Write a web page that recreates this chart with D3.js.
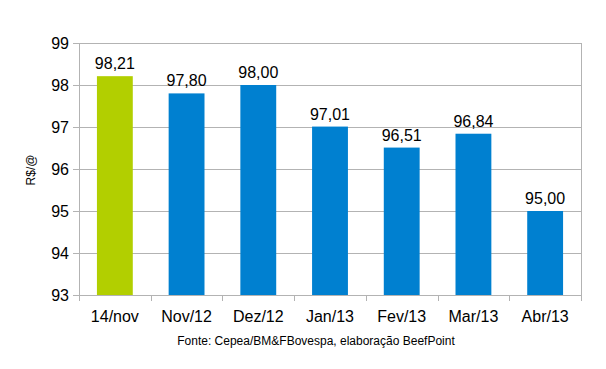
<!DOCTYPE html>
<html><head><meta charset="utf-8">
<script src="https://cdn.jsdelivr.net/npm/d3@7"></script>
<style>body{margin:0;background:#fff}svg{display:block}</style>
</head><body>
<svg id="c" width="606" height="369"></svg>
<script>
const categories = ["14/nov","Nov/12","Dez/12","Jan/13","Fev/13","Mar/13","Abr/13"];
const values = [98.21,97.80,98.00,97.01,96.51,96.84,95.00];
const yTicks = [93,94,95,96,97,98,99];
const barColors = ["#b2cf00","#0080d0","#0080d0","#0080d0","#0080d0","#0080d0","#0080d0"];

const svg = d3.select("#c");
const m = {l:79, r:581, t:43, b:295};
const font = "'Liberation Sans', Arial, sans-serif";
const x = d3.scaleBand().domain(categories).range([m.l, m.r]).paddingInner(0.5).paddingOuter(0.25);
const xb = d3.scaleBand().domain(categories).range([m.l, m.r]);
const y = d3.scaleLinear().domain([93,99]).range([m.b, m.t]);
const grid = "#b3b3b3";

// gridlines
svg.append("g").selectAll("line").data(yTicks).join("line")
  .attr("x1", m.l-6).attr("x2", m.r).attr("y1", d=>y(d)+0.5).attr("y2", d=>y(d)+0.5)
  .attr("stroke", grid).attr("stroke-width",1);
// left axis line and right border
svg.append("line").attr("x1",m.l+0.5).attr("x2",m.l+0.5).attr("y1",m.t).attr("y2",m.b).attr("stroke",grid);
svg.append("line").attr("x1",m.r+0.5).attr("x2",m.r+0.5).attr("y1",m.t).attr("y2",m.b).attr("stroke",grid);
// x ticks at band boundaries
const bounds = categories.map(c=>xb(c)).concat([m.r]);
svg.append("g").selectAll("line").data(bounds).join("line")
  .attr("x1",d=>Math.round(d)+0.5).attr("x2",d=>Math.round(d)+0.5).attr("y1",m.b).attr("y2",m.b+6).attr("stroke",grid);

// y tick labels
svg.append("g").selectAll("text").data(yTicks).join("text")
  .attr("x", m.l-10).attr("y", d=>y(d)).attr("dy","0.35em").attr("text-anchor","end")
  .attr("font-family",font).attr("font-size",16).attr("fill","#000").text(d=>d);

// bars
svg.append("g").selectAll("rect").data(values).join("rect")
  .attr("x",(d,i)=>x(categories[i])).attr("width",x.bandwidth())
  .attr("y",d=>y(d)).attr("height",d=>m.b-y(d)).attr("fill",(d,i)=>barColors[i]);

// value labels
svg.append("g").selectAll("text").data(values).join("text")
  .attr("x",(d,i)=>x(categories[i])+x.bandwidth()/2).attr("y",d=>y(d)-7)
  .attr("text-anchor","middle").attr("font-family",font).attr("font-size",16).attr("fill","#000")
  .text(d=>d.toFixed(2).replace(".",","));

// x labels
svg.append("g").selectAll("text").data(categories).join("text")
  .attr("x",d=>xb(d)+xb.bandwidth()/2).attr("y",322).attr("text-anchor","middle")
  .attr("font-family",font).attr("font-size",16).attr("fill","#000").text(d=>d);

// y title
svg.append("text").attr("transform","translate(35,170) rotate(-90)").attr("text-anchor","middle")
  .attr("font-family",font).attr("font-size",12).attr("fill","#000").text("R$/@");

// source
svg.append("text").attr("x",316).attr("y",345).attr("text-anchor","middle")
  .attr("font-family",font).attr("font-size",12).attr("fill","#000").text("Fonte: Cepea/BM&FBovespa, elaboração BeefPoint");
</script>
</body></html>
